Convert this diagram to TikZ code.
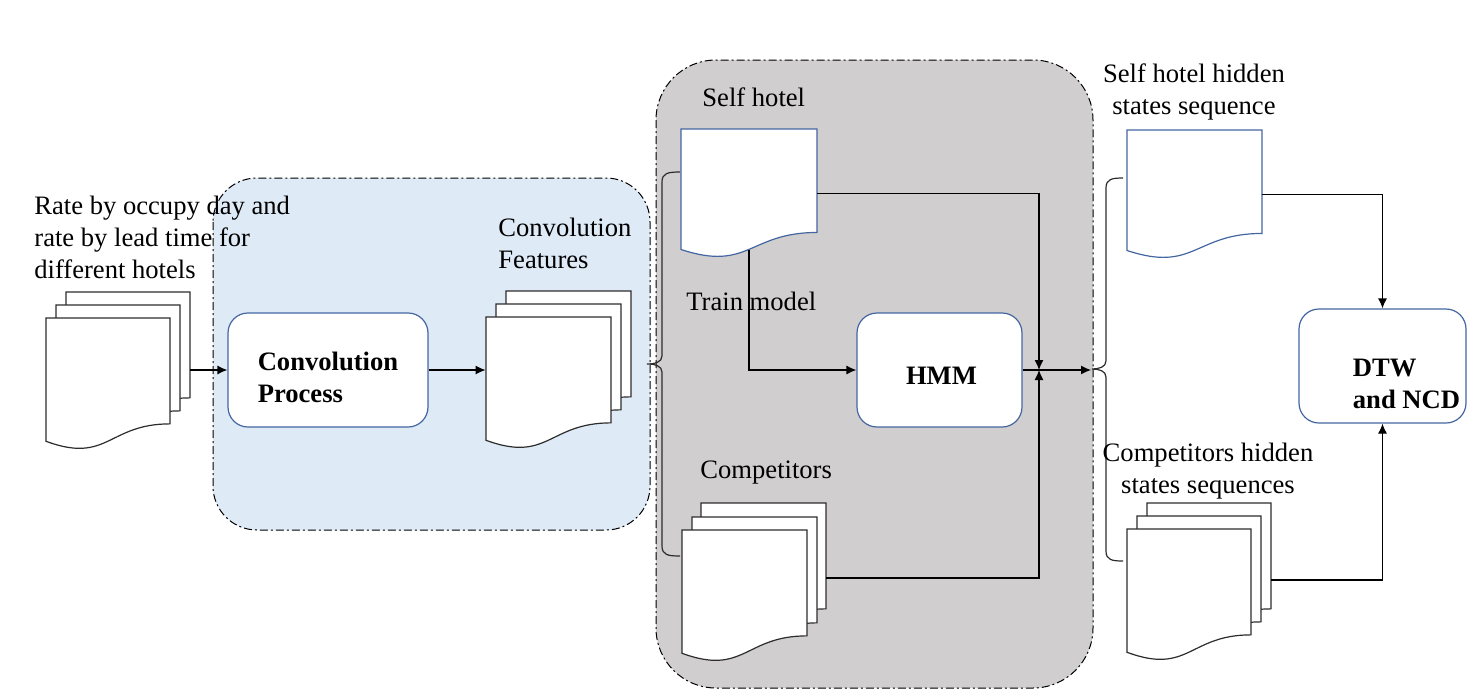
\documentclass[tikz,border=0pt]{standalone}
\usepackage{fontspec}
\setmainfont{Liberation Serif}
\usetikzlibrary{arrows.meta,fit,calc}
\definecolor{regblue}{RGB}{222,234,246}
\definecolor{reggray}{RGB}{208,206,206}
\definecolor{boxline}{RGB}{68,102,160}
\definecolor{docline}{RGB}{45,45,45}
\newcommand{\docshp}[6]{%
  \node[fit={(#2,#3) ({#2+#4},{#3+#5})}, inner sep=0pt, draw=none] (#1) {};
  \filldraw[#6] (#2,#3) -- ({#2+#4},#3) -- ({#2+#4},{#3+0.802*#5})
    .. controls ({#2+0.5*#4},{#3+0.802*#5}) and ({#2+0.5*#4},{#3+1.1075*#5}) ..
    (#2,{#3+0.934*#5}) -- cycle;
}
\begin{document}
\begin{tikzpicture}[x=0.5pt,y=-0.5pt,
  lbl/.style={font=\fontsize{13.3}{16}\selectfont, inner sep=0pt},
  bfl/.style={font=\fontsize{13.3}{16}\selectfont\bfseries, inner sep=0pt, align=left},
  region/.style={draw=black, line width=0.5pt, dash pattern=on 4pt off 1.5pt on 1pt off 1.5pt},
  docblack/.style={draw=docline, fill=white, line width=0.6pt},
  docblue/.style={draw=boxline, fill=white, line width=0.6pt},
  box/.style={draw=boxline, fill=white, rounded corners=10pt, line width=0.6pt, inner sep=0pt},
  arr/.style={draw=black, line width=0.6pt, -{Latex[length=5pt,width=4.5pt]}},
  bracestyle/.style={draw=docline, line width=0.6pt}]
\useasboundingbox (0,0) rectangle (1480,692);
% regions
\draw[region, fill=regblue, rounded corners=22pt] (213,178) rectangle (650,530);
\draw[region, fill=reggray, rounded corners=30pt] (656,60) rectangle (1093,688);
% braces
\draw[bracestyle] (680,172) .. controls (668,172) and (662,173) .. (662,182) -- (662,356)
  .. controls (662,362) and (655,364) .. (647,364) .. controls (655,364) and (662,366) .. (662,372)
  -- (662,546) .. controls (662,555) and (668,556) .. (680,556);
\draw[bracestyle] (1123,178) .. controls (1112,178) and (1106,179) .. (1106,188) -- (1106,361)
  .. controls (1106,367) and (1099,369) .. (1092,369) .. controls (1099,369) and (1106,371) .. (1106,377)
  -- (1106,551) .. controls (1106,560) and (1112,561) .. (1123,561);
% document stacks
\docshp{in3}{66}{292}{124}{132}{docblack}
\docshp{in2}{56}{305}{124}{132}{docblack}
\docshp{in1}{46}{318}{124}{132}{docblack}
\docshp{cf3}{506}{291}{125}{132}{docblack}
\docshp{cf2}{496}{304}{125}{132}{docblack}
\docshp{cf1}{486}{317}{125}{132}{docblack}
\docshp{sh}{681}{129}{136}{129}{docblue}
\docshp{cp3}{701}{503}{125}{132}{docblack}
\docshp{cp2}{692}{517}{125}{132}{docblack}
\docshp{cp1}{682}{530}{125}{132}{docblack}
\docshp{shh}{1127}{130}{135}{129}{docblue}
\docshp{ch3}{1147}{503}{124}{132}{docblack}
\docshp{ch2}{1137}{516}{124}{132}{docblack}
\docshp{ch1}{1127}{529}{124}{132}{docblack}
% boxes
\node[box, fit={(228,313) (428,427)},
  label={[bfl, yshift=-3.5pt]center:{Convolution\\Process}}] (conv) {};
\node[box, fit={(857,313) (1022,427)},
  label={[bfl, yshift=-3pt, xshift=1pt]center:HMM}] (hmm) {};
\node[box, fit={(1299,309) (1466,423)},
  label={[bfl, yshift=-9pt, xshift=12pt]center:{DTW\\and NCD}}] (dtw) {};
% connectors
\coordinate (m) at (1039,370);
\coordinate (b2tip) at (1091,370);
\draw[arr] (conv.west -| in3.east) -- (conv.west);
\draw[arr] (conv.east) -- (conv.east -| cf1.west);
\draw[arr] ($(sh.north)!0.933!(sh.south)$) |- (hmm.west);
\draw[arr] (sh.east) -| (m);
\draw[arr] ([yshift=-4.5pt]cp3.east) -| (m);
\draw[arr] (hmm.east) -- (b2tip);
\draw[arr] (shh.east) -| (dtw.north);
\draw[arr] ([yshift=-5.5pt]ch3.east) -| (dtw.south);
% labels (base anchor = baseline of last line)
\node[lbl, align=left, anchor=base west] (lin) at (34,278) {Rate by occupy day and\\rate by lead time for\\different hotels};
\node[lbl, align=left, anchor=base west] (lcf) at (498,268) {Convolution\\Features};
\node[lbl, anchor=base west] (lsh) at (702,106) {Self hotel};
\node[lbl, anchor=base west] (ltm) at (686,310) {Train model};
\node[lbl, anchor=base west] (lcp) at (700,478) {Competitors};
\node[lbl, align=center, anchor=base] (lshh) at (1194,114) {Self hotel hidden\\states sequence};
\node[lbl, align=center, anchor=base] (lchh) at (1208,493) {Competitors hidden\\states sequences};
\end{tikzpicture}
\end{document}
